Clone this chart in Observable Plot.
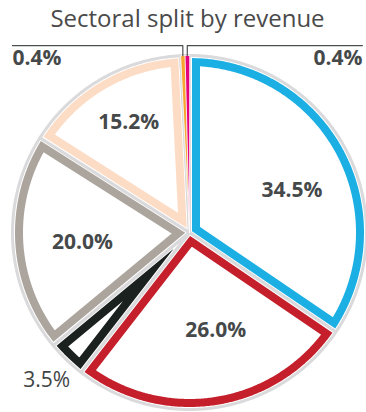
<!DOCTYPE html>
<html><head><meta charset="utf-8">
<script src="https://cdn.jsdelivr.net/npm/d3@7"></script>
<script src="https://cdn.jsdelivr.net/npm/@observablehq/plot@0.6"></script>
<style>
body{margin:0;background:#fff;}
#title{font-family:"Open Sans",sans-serif;font-size:24px;color:#4a4a4a;text-align:center;height:40px;line-height:32px;padding-top:2px;padding-left:9px;box-sizing:border-box;width:366px;}
#chart svg{display:block;}
</style></head><body>
<div id="title">Sectoral split by revenue</div>
<div id="chart"></div>
<script>
// ---- data ----
const sectors = ["Sector A","Sector B","Sector C","Sector D","Sector E","Sector F","Sector G"];
const shares  = [34.5, 26.0, 3.5, 20.0, 15.2, 0.4, 0.4];
const labels  = ["34.5%","26.0%","3.5%","20.0%","15.2%","0.4%","0.4%"];
const colors  = ["#1cafe4","#c41f2b","#1b211f","#aca59d","#fddcc5","#f8a431","#e5007d"];

// ---- label layout (polar: radius as share of pie radius, turn from slice mid-angle in degrees) ----
const labelRadius = [0.627, 0.571, 1.16, 0.607, 0.713, 0, 0];
const labelTurn   = [5.4, -6, 0, -1.7, 1.4, 0, 0];

// ---- layout ----
const W = 366, H = 372, cx = 189, cy = 192, Rpx = 177;
const rows = sectors.map((s,i)=>({key:s, value:shares[i], label:labels[i], lr:labelRadius[i], lt:labelTurn[i]*Math.PI/180}));
const arcs = d3.pie().sort(null).value(d=>d.value)(rows);
const px = 1/Rpx;                 // one pixel in data units
const inset = 6.5*px;             // centre line of the coloured stroke
const step = Math.PI/360;

function arcPts(a0, a1, r, key){
  const n = Math.max(2, Math.ceil((a1-a0)/step));
  const out = [];
  for(let k=0;k<=n;k++){const a=a0+(a1-a0)*k/n; out.push({key, x:r*Math.sin(a), y:r*Math.cos(a)});}
  return out;
}
const outline = [], insetPts = [], tinyPts = [], leaders = [], inLabels = [], outLabels = [], tinyLabels = [];
let tinyIdx = 0;
arcs.forEach(a=>{
  const key = a.data.key, v = a.data.value;
  const a0 = a.startAngle, a1 = a.endAngle, m = (a0+a1)/2, h = (a1-a0)/2;
  outline.push({key, x:0, y:0}, ...arcPts(a0, a1, 1, key));
  if (v < 1){
    tinyPts.push({key, x:0, y:0}, ...arcPts(a0, a1, 1, key));
    const side = tinyIdx++ === 0 ? -1 : 1;
    const xm = Math.sin(m), ym = Math.cos(m);
    const ly = 1.056, lx = side < 0 ? -1.0 : 0.977;
    leaders.push({key, x:xm, y:ym}, {key, x:xm, y:ly}, {key, x:lx, y:ly});
    tinyLabels.push({x:lx, y:0.985, text:a.data.label, anchor: side<0 ? "start" : "end"});
  } else {
    const ad = inset/Math.sin(h), d = Math.asin(inset/(1-inset));
    insetPts.push({key, x:ad*Math.sin(m), y:ad*Math.cos(m)}, ...arcPts(a0+d, a1-d, 1-inset, key));
    const la = m + a.data.lt, lr = a.data.lr;
    const p = {x:lr*Math.sin(la), y:lr*Math.cos(la), text:a.data.label};
    if (v < 5) outLabels.push(p); else inLabels.push(p);
  }
});

const font = "'Open Sans', sans-serif", ink = "#45494a";
const chart = Plot.plot({
  width: W, height: H, margin: 0,
  x: {domain: [-cx*px, (W-cx)*px], range: [0, W], axis: null},
  y: {domain: [-(H-cy)*px, cy*px], range: [H, 0], axis: null},
  color: {domain: sectors, range: colors},
  style: {fontFamily: font, background: "#fff"},
  marks: [
    Plot.line(outline, {x:"x", y:"y", z:"key", curve:"linear-closed", fill:"white", stroke:"#dadadc", strokeWidth:3, strokeLinejoin:"round"}),
    Plot.line(tinyPts, {x:"x", y:"y", z:"key", curve:"linear-closed", fill:"key", stroke:"white", strokeWidth:0.8}),
    Plot.line(insetPts, {x:"x", y:"y", z:"key", curve:"linear-closed", stroke:"key", fill:"white", strokeWidth:8, strokeLinejoin:"miter", strokeMiterlimit:20}),
    Plot.line(leaders, {x:"x", y:"y", z:"key", stroke:"#4a4f50", strokeWidth:1.2}),
    Plot.text(inLabels, {x:"x", y:"y", text:"text", fontSize:21, fontWeight:"bold", fill:ink}),
    Plot.text(outLabels, {x:"x", y:"y", text:"text", fontSize:21, fill:"#3f4444"}),
    Plot.text(tinyLabels.filter(d=>d.anchor==="start"), {x:"x", y:"y", text:"text", textAnchor:"start", fontSize:21, fontWeight:"bold", fill:ink}),
    Plot.text(tinyLabels.filter(d=>d.anchor==="end"), {x:"x", y:"y", text:"text", textAnchor:"end", fontSize:21, fontWeight:"bold", fill:ink})
  ]
});
document.getElementById("chart").appendChild(chart);
</script>
</body></html>
